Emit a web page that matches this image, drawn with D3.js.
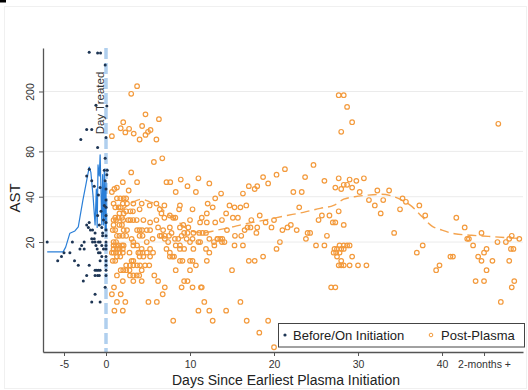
<!DOCTYPE html>
<html><head><meta charset="utf-8">
<script src="https://cdn.jsdelivr.net/npm/d3@7"></script>
<style>body{margin:0;background:#fff}svg{display:block;font-family:"Liberation Sans",Arial,sans-serif}</style>
</head><body><svg id="c" width="528" height="390"></svg>
<script>
// ---- data ----
const xTickValues = [-5, 0, 10, 20, 30, 40, 45];
const xTickLabels = ["-5", "0", "10", "20", "30", "40", "2-months +"];
const yTickValues = [20, 40, 80, 200];
const legendLabels = ["Before/On Initiation", "Post-Plasma"];

// pre-plasma trend [day, AST]
const beforeLine = [[-7.0,17.2],[-5.1,17.2],[-4.8,18.5],[-4.3,22.9],[-3.7,23.7],[-3.3,25.2],[-3.1,29.3],[-2.75,38],[-2.4,48],[-2.0,63],[-1.8,58],[-1.55,41],[-1.3,26],[-1.15,45],[-1.05,25],[-0.95,65],[-0.8,55],[-0.7,76],[-0.6,45],[-0.5,26],[-0.4,56],[-0.3,26],[-0.2,60],[-0.1,24],[0,50],[0.03,24]];

// post-plasma trend [day, AST]
const postLine = [[1.8,31.7],[2.4,34.5],[3.1,36.5],[4.25,38.5],[5.2,37],[6.2,35],[7.2,31],[8.4,28],[9.4,25],[10.4,23.5],[11.6,23],[13.2,24],[14.8,25],[16.3,26.2],[17.9,27.3],[19.5,28.4],[21.1,29.7],[23.5,31.5],[25.5,33.5],[27.1,35],[28.3,38.5],[29.6,40],[31.2,41],[32.8,41.5],[34.0,40.5],[35.2,38],[36.4,34.5],[37.6,29.5],[38.8,25.5],[40.0,24],[41.5,22.7],[43.5,22.2],[45.5,21.8],[47.5,21.4],[49.3,21.1]];

// before/on initiation measurements [day, AST]
const beforePoints = [[-2.0,365],[-1.0,360],[-0.65,360],[-0.1,300],[-1.2,162],[0.1,160],[-2.3,112],[-1.7,112],[-3.0,96],[0.0,99],[-1.0,85],[-0.1,72],[0.15,60],
[-2.0,61],[-2.3,55],[-1.7,51],[-1.4,47],[-0.9,41],[-0.7,46],[-0.1,51],[0.0,45],[0.1,56],[-0.2,60],
[-2.3,26],[-2.0,27],[-1.85,24],[-2.1,25],[-1.7,21],[-1.6,20],[-1.4,21],[-1.3,20],[-1.2,19],[-1.05,18],[-0.9,17],[-0.7,17],[-2.6,20],[-2.6,18],[-3.1,18],[-2.9,19],[-4.0,20],[-7.0,20],[-5.75,15],[-5.3,16],[-5.0,17],[-4.3,17],[-3.75,15],[-3.3,14],[-2.0,14],[-2.3,12],[-2.7,11],[-1.3,13],[-1.1,13],[-0.9,13],[-0.7,13],[-1.3,12],[-1.0,12],[-0.8,12],[-0.7,15],[-1.7,8],[-0.7,8],[-1.3,9],[-0.1,10],
[0,13],[0,12],[0,14],[0,15],[0,16],[0,18],[0,19],[0,20],[0,22],[0,24],[0,27],[0,30],[0,34],[0,38],
[-0.4,22],[-0.4,23],[-0.5,25],[-1.3,23],[-1.6,24],[-0.9,20],[-0.7,20],[-0.5,19],[-0.3,18],[-0.5,16],[-0.3,28],[-0.6,32],[-0.2,35],[-1.0,30],[-0.8,26]];

// post-plasma measurements [day, AST]
const postPoints = [[3.7,217],[3.0,193],[0.7,101],[1.75,114],[2.05,125],[2.3,107],[2.75,113],[3.3,105],[4.0,96],[4.3,118],[4.7,141],[4.7,103],[5.0,108],[5.3,111],[6.0,96],[6.3,131],[5.7,68],[6.7,72],[3.0,58],[3.7,50],[2.0,50],[1.0,45],[1.3,46],[0.7,43],[2.7,44],[7.2,50],[7.65,50],[8.3,43],[8.9,52],
[9.7,47],[10.7,43],[11.0,53],[12.3,49],[13.7,42],[13.0,39],[16.3,42],[17.0,47],[17.7,45],[18.0,47],[18.7,54],[19.3,49],[20.3,56],[21.3,61],[22.3,43],[23.3,43],[23.7,54],[24.7,65],[26.0,51],[27.3,46],[27.7,53],[28.0,45],[28.3,48],[28.7,48],[29.0,52],[29.3,46],[29.8,51],[30.2,43],
[27.7,189],[28.3,189],[28.7,158],[28.0,108],[29.3,125],[46.7,122],
[30.7,53],[32.3,44],[33.7,44],
[31.3,38],[32.0,35],[32.7,31],[33.0,38],[35.0,33],[35.3,39],[35.7,37],[34.3,23],[37.3,35],[38.0,30],[37.0,17],[37.7,19],[39.3,13],[39.7,14],[41.0,16],[41.3,16],[41.7,29],[42.7,25],[43.0,21],[43.2,21],[43.7,19],[44.7,23],[45.0,17],[45.3,18],[44.3,16],[44.7,15],[46.0,15],[45.3,13],[44.0,11],[45.0,11],[46.6,20],[47.6,20],[48.0,21],[48.3,22],[48.2,18],[48.5,18],[48.0,15],[48.6,11],[48.3,10],[47.0,8],[49.2,21],
[30.0,14],[31.0,14],[29.3,16],
[12.0,31],[12.7,34],[14.3,31],[14.7,35],[15.1,29],[15.7,29],[15.3,34],[16.0,34],[16.7,35],[17.3,28],[18.0,25],[18.3,30],[19.0,27],[19.7,25],[20.0,28],[21.0,24],[21.6,25],[22.0,26],[22.7,24],[23.0,34],[23.8,21],[24.0,23],[24.3,23],[25.3,28],[25.7,30],[26.6,30],[27.0,27],[27.3,27],[27.7,32],[28.3,26],[26.3,22],[25.0,19],[26.0,19],
[27.2,18],[27.5,18],[27.8,17],[27.1,17],[27.4,17],
[27.8,19],[28.3,19],[28.7,19],[29.0,19],[28.0,18],[28.3,18],[27.5,16],[28.0,15],[27.7,14],[28.0,14],[28.3,14],[29.0,14],
[26.8,10],[27.3,10],
[12.9,19],[13.8,20],[14.1,20],[13.3,21],[15.3,19],[16.3,19],[20.7,20],[20.3,18],[12.3,17],[12.0,15],[17.0,15],[17.7,15],[18.7,16],[15.0,13],[11.4,10],[11.7,8],[16.0,8],[12.3,7],[14.3,7],[12.7,6],[16.75,6],[19.3,6],[18.25,5],[20.0,4],
[8.0,6],[11.0,7],[6.75,9],[7.0,10],[9.0,10],[10.3,10],[11.3,10],[9.3,11],[9.7,11],[8.3,13],[8.8,15],[9.1,15],[10.0,15],[10.3,15],[7.9,16],[8.1,16],[10.7,14],[7.2,18],[8.3,19],[9.3,18],[8.6,21],[9.0,22],[9.6,21],[10.3,21],[11.0,20],[7.5,22],[6.6,22],[7.0,22],[8.0,29],[8.25,29],[9.3,23],[9.7,23],[10.0,28],[9.2,26],
[6.95,35],[8.8,35],[10.3,33],[12.1,36],
[13.0,27],[13.8,28],[14.4,24],[11.2,27],[12.0,27],[11.5,23],[12.3,21],[13.25,21],[13.6,21],[13.85,21],[12.85,20],[15.35,22],[16.1,22],[16.5,24],[16.85,25],[17.2,25],[17.9,23],
[1.3,39],[1.7,39],[2.1,39],[2.4,39],[0.9,36],[2.0,36],[1.75,34],[1.1,34],[1.5,34],[2.5,36],[3.25,36],[2.4,32],[2.9,32],[3.2,32],[4.0,33],[4.25,36],[5.2,35],[6.0,36],[6.4,33],[6.6,31],[6.95,29],[7.6,30],[8.7,33],[11.4,29],
[1.6,31],[2.1,31],[1.1,29],[1.5,29],[1.9,29],[2.05,28],[0.9,28],[1.2,28],[0.9,26],[1.6,26],[1.9,26],[2.65,28],[2.9,28],[3.25,28],[3.65,28],[4.45,28],[5.25,27],[6.0,28],
[3.7,24],[4.0,24],[4.3,24],[4.85,24],[5.25,24],[6.2,25],[6.8,24],[7.6,25],[7.8,23],[8.8,25],[9.8,25],[10.4,23],[11.1,23],[11.9,23],
[0.8,24],[1.1,24],[2.1,24],[2.5,24],[1.3,22],[1.6,22],[2.0,22],[2.4,22],[0.9,20],[1.2,20],[3.05,21],[3.25,20],[4.0,22],[4.35,22],[4.85,20],[5.55,21],[6.4,22],[7.0,21],[7.4,20],[8.2,21],[8.8,19],[10.0,20],[10.4,18],[11.2,20],[11.9,18],
[0.9,19],[1.2,19],[1.5,19],[1.9,19],[2.1,19],[0.9,18],[1.3,18],[1.6,18],[2.0,18],[0.9,17],[1.2,17],[1.6,17],[2.0,17],[3.25,19],[3.7,19],[4.25,18],[4.05,17],[4.35,17],[5.25,18],[5.6,17],[7.6,17],[8.8,18],
[0.7,17],[2.8,17],[3.85,17],[4.85,17],[1.7,16],[1.3,16],[4.0,16],[4.45,16],[5.25,16],[7.6,16],[0.8,15],[1.1,15],[3.05,15],[3.25,15],[2.4,14],[2.85,14],[3.25,14],[3.7,14],[4.05,14],[4.65,14],[5.15,14],[1.75,13],[2.05,13],[2.4,13],[2.8,13],[4.25,13],[10.0,13],[1.3,12],[2.85,12],[3.25,12],[3.65,12],[3.95,12],[5.75,12],[2.0,11],[3.25,11],[4.25,11],[6.2,11],[0.95,10],[0.7,9],[1.75,9],[1.3,8],[2.3,8],[5.05,8],[6.05,8],[1.0,7],[2.0,7]];

// ---- drawing ----
const svg = d3.select("#c");
const x = d3.scaleLinear().domain([-7.5, 49.64]).range([43, 523]);
const y = d3.scaleLog().domain([3.72, 389]).range([352, 48]);

const blueDot = "#1d3554", blueLine = "#2a7fd8", orange = "#f39a3c", refLine = "#b0cfee";

// faint frame
svg.append("rect").attr("x", 4.5).attr("y", 6.5).attr("width", 522).attr("height", 382)
  .attr("fill", "none").attr("stroke", "#f0f0f0");
// remnant of a cropped panel mark at top-left
svg.append("path").attr("d", "M0,0H6V2.5H0Z").attr("fill", "#000");

// gridlines
svg.append("g").selectAll("line").data(yTickValues).join("line")
  .attr("x1", 43).attr("x2", 523).attr("y1", d => y(d)).attr("y2", d => y(d))
  .attr("stroke", "#ebebeb").attr("stroke-width", 1);

// day-treated reference line
svg.append("line").attr("x1", x(0)).attr("x2", x(0)).attr("y1", y.range()[1]).attr("y2", y.range()[0])
  .attr("stroke", refLine).attr("stroke-width", 3.5).attr("stroke-dasharray", "11,4");

// pre line
const lineGen = d3.line().x(d => x(d[0])).y(d => y(d[1]));
svg.append("path").datum(beforeLine).attr("d", lineGen)
  .attr("fill", "none").attr("stroke", blueLine).attr("stroke-width", 1.2).attr("stroke-linejoin", "round");

// post points
svg.append("g").selectAll("circle").data(postPoints).join("circle")
  .attr("cx", d => x(d[0])).attr("cy", d => y(d[1])).attr("r", 2.3)
  .attr("fill", "none").attr("stroke", orange).attr("stroke-width", 1.2);

// before points
svg.append("g").selectAll("circle").data(beforePoints).join("circle")
  .attr("cx", d => x(d[0])).attr("cy", d => y(d[1])).attr("r", 1.5)
  .attr("fill", blueDot);

// post line
svg.append("path").datum(postLine).attr("d", d3.line().curve(d3.curveMonotoneX).x(d => x(d[0])).y(d => y(d[1])))
  .attr("fill", "none").attr("stroke", orange).attr("stroke-width", 1.4).attr("stroke-dasharray", "9,5").attr("opacity", 0.9);

// Day Treated label
svg.append("text").attr("transform", `translate(${x(0) - 2},103) rotate(-90)`)
  .attr("text-anchor", "middle").attr("font-size", 11.5).attr("fill", "#333").text("Day Treated");

// axes
const axisColor = "#555";
const gx = svg.append("g").attr("transform", "translate(0,352)")
  .call(d3.axisBottom(x).tickValues(xTickValues).tickFormat((d, i) => xTickLabels[i]).tickSize(4).tickSizeOuter(0).tickPadding(5));
gx.select(".domain").attr("stroke", axisColor).attr("stroke-width", 1.3);
gx.selectAll(".tick line").attr("stroke", axisColor);
gx.selectAll(".tick text").attr("font-size", 10.5).attr("fill", "#333").attr("font-family", "Liberation Sans, Arial, sans-serif");

const gy = svg.append("g").attr("transform", "translate(43,0)")
  .call(d3.axisLeft(y).tickValues(yTickValues).tickFormat(d3.format("d")).tickSize(4).tickSizeOuter(0));
gy.select(".domain").attr("stroke", axisColor).attr("stroke-width", 1.3);
gy.selectAll(".tick line").attr("stroke", axisColor);
gy.selectAll(".tick text").attr("font-size", 10.5).attr("fill", "#333").attr("font-family", "Liberation Sans, Arial, sans-serif")
  .attr("transform", "rotate(-90)").attr("x", 0).attr("y", -9.5).attr("dy", 0).attr("text-anchor", "middle");

// axis titles
svg.append("text").attr("transform", "translate(20,198) rotate(-90)").attr("text-anchor", "middle")
  .attr("font-size", 15).attr("fill", "#222").text("AST");
svg.append("text").attr("x", 286).attr("y", 385).attr("text-anchor", "middle")
  .attr("font-size", 14).attr("fill", "#222").text("Days Since Earliest Plasma Initiation");

// legend
const lg = svg.append("g");
lg.append("rect").attr("x", 278.5).attr("y", 323.5).attr("width", 246).attr("height", 23.5)
  .attr("fill", "#fff").attr("stroke", "#444").attr("stroke-width", 1);
lg.append("circle").attr("cx", 285).attr("cy", 335).attr("r", 1.6).attr("fill", blueDot);
lg.append("text").attr("x", 293).attr("y", 340).attr("font-size", 13).attr("fill", "#222").text(legendLabels[0]);
lg.append("circle").attr("cx", 431).attr("cy", 335).attr("r", 1.8).attr("fill", "none").attr("stroke", orange).attr("stroke-width", 1);
lg.append("text").attr("x", 441).attr("y", 340).attr("font-size", 13).attr("fill", "#222").text(legendLabels[1]);
</script>
</body></html>
